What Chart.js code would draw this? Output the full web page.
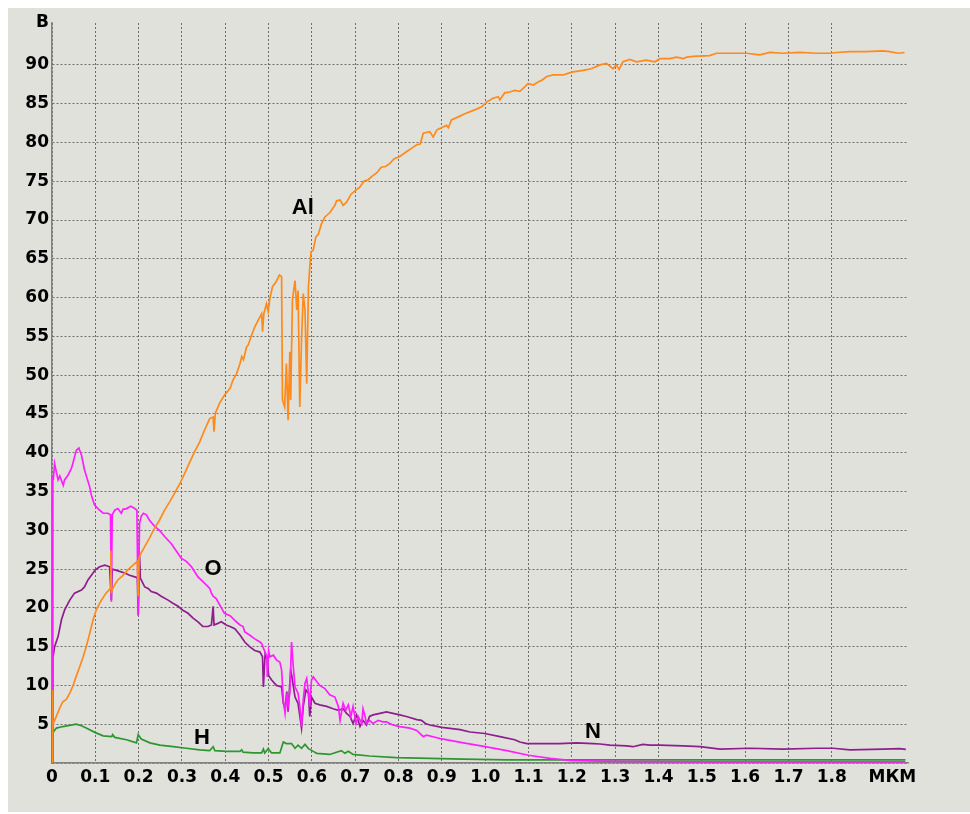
<!DOCTYPE html>
<html>
<head>
<meta charset="utf-8">
<script src="https://cdn.jsdelivr.net/npm/chart.js@4/dist/chart.umd.min.js"></script>
<style>
html,body{margin:0;padding:0;background:#fff;}
canvas{display:block;}
</style>
</head>
<body>
<canvas id="c" width="970" height="814"></canvas>
<script>
// ---- data (depth in µm, signal) ----
const AL_X = [0,0.001,0.002,0.01,0.018,0.025,0.033,0.041,0.048,0.056,0.064,0.072,0.079,0.087,0.095,0.102,0.114,0.125,0.135,0.136,0.137,0.145,0.152,0.164,0.175,0.187,0.197,0.199,0.201,0.205,0.214,0.225,0.237,0.248,0.26,0.272,0.283,0.295,0.306,0.318,0.329,0.341,0.352,0.364,0.372,0.374,0.377,0.387,0.398,0.411,0.418,0.426,0.434,0.438,0.442,0.449,0.453,0.461,0.468,0.476,0.484,0.486,0.489,0.495,0.499,0.503,0.509,0.517,0.525,0.53,0.532,0.537,0.541,0.545,0.549,0.551,0.555,0.561,0.565,0.568,0.572,0.576,0.58,0.584,0.588,0.592,0.595,0.598,0.603,0.609,0.615,0.622,0.63,0.642,0.653,0.657,0.665,0.672,0.68,0.69,0.70,0.71,0.72,0.73,0.74,0.75,0.76,0.77,0.78,0.79,0.803,0.818,0.834,0.842,0.85,0.857,0.872,0.88,0.888,0.895,0.903,0.911,0.915,0.922,0.938,0.953,0.976,0.992,1.003,1.018,1.03,1.034,1.045,1.057,1.068,1.08,1.092,1.099,1.111,1.122,1.13,1.142,1.157,1.18,1.191,1.203,1.226,1.245,1.265,1.28,1.295,1.303,1.309,1.318,1.334,1.349,1.372,1.392,1.403,1.426,1.442,1.457,1.465,1.48,1.518,1.534,1.572,1.603,1.634,1.657,1.688,1.726,1.765,1.795,1.811,1.842,1.88,1.918,1.934,1.953,1.968];
const AL_Y = [0,9.4,4.9,6,7.1,7.9,8.2,9,9.9,11.2,12.4,13.7,15,16.7,18.5,19.7,21,21.9,22.5,27.4,22.1,23,23.6,24.2,24.9,25.5,26,21.5,26.5,27,27.9,29,30.3,31.3,32.6,33.7,34.8,36,37.3,38.8,40.1,41.4,42.9,44.4,44.6,42.7,45.1,46.4,47.4,48.3,49.4,50.2,51.5,52.4,52.0,53.6,53.9,55.2,56.2,57.1,57.9,55.6,57.9,59.2,58.2,59.9,61.4,62,62.9,62.7,46.8,45.9,51.5,44.2,53,46.8,59.7,62.2,58.4,60.9,45.9,54.5,60.5,58.4,48.9,61.4,63.9,65.9,66.1,67.8,68.2,69.5,70.4,71,71.9,72.5,72.6,71.9,72.3,73.3,73.8,74.2,75,75.2,75.7,76.1,76.8,76.9,77.3,77.9,78.2,78.8,79.4,79.7,79.8,81.2,81.4,80.7,81.6,81.8,82,82.2,81.9,82.9,83.3,83.7,84.2,84.6,85.2,85.7,85.9,85.5,86.4,86.5,86.7,86.6,87.2,87.6,87.4,87.8,88,88.5,88.7,88.7,88.9,89.1,89.3,89.5,90,90.2,89.5,90,89.4,90.4,90.7,90.4,90.6,90.4,90.8,90.8,91,90.8,91,91.1,91.2,91.5,91.5,91.5,91.3,91.6,91.5,91.6,91.5,91.5,91.6,91.7,91.7,91.8,91.7,91.5,91.6];

const O_X = [0,0.002,0.003,0.006,0.014,0.018,0.026,0.029,0.037,0.045,0.049,0.056,0.062,0.068,0.075,0.082,0.087,0.091,0.098,0.106,0.118,0.129,0.135,0.137,0.139,0.145,0.152,0.16,0.164,0.172,0.182,0.191,0.196,0.199,0.202,0.206,0.211,0.218,0.225,0.237,0.248,0.26,0.275,0.291,0.298,0.31,0.322,0.337,0.352,0.364,0.368,0.372,0.379,0.391,0.398,0.411,0.422,0.434,0.441,0.445,0.456,0.468,0.48,0.484,0.488,0.492,0.496,0.497,0.5,0.503,0.511,0.518,0.526,0.53,0.534,0.538,0.542,0.545,0.549,0.553,0.557,0.561,0.568,0.572,0.576,0.58,0.584,0.588,0.592,0.595,0.599,0.603,0.611,0.618,0.63,0.641,0.653,0.661,0.665,0.672,0.678,0.684,0.69,0.695,0.702,0.707,0.715,0.718,0.722,0.726,0.733,0.741,0.753,0.764,0.772,0.787,0.803,0.826,0.842,0.857,0.865,0.9,0.95,1.0,1.05,1.1,1.15,1.2,1.3,1.5,1.7,1.97];
const O_Y = [0,37,36.5,38.6,36.5,37,35.8,36.5,37.1,38,38.8,40.3,40.6,39.7,37.8,36.5,35.6,34.5,33.3,32.8,32.2,32.2,32,20.8,32,32.6,32.8,32.2,32.7,32.8,33.1,32.8,32.6,19,30.9,31.8,32.2,32,31.3,30.5,30,29.2,28.3,27,26.4,26,25.3,24,23.2,22.5,21.9,21.5,21.2,20,19.3,19,18.4,17.8,17.6,16.9,16.5,16,15.6,15.4,14.8,14.3,13.7,11.1,14.5,13.7,13.9,13.3,13,12,8.1,6.4,9,7.3,9,15.6,12.4,9.8,9,7.3,4.7,8.1,10.3,10.9,9,7.3,10.7,11.1,10.5,10,9.6,8.8,8.5,7.3,5.5,7.7,6.8,7.5,6,7.3,5.1,6,5.1,7,6.2,5.1,5.5,5.1,5.5,5.3,5.3,4.9,4.7,4.5,4.2,3.4,3.6,3.1,2.6,2.1,1.6,1.0,0.6,0.3,0.2,0.15,0.15,0.15];

const N_X = [0,0.002,0.006,0.014,0.022,0.029,0.041,0.052,0.068,0.075,0.083,0.091,0.1,0.11,0.122,0.133,0.137,0.139,0.145,0.156,0.168,0.179,0.191,0.197,0.199,0.202,0.204,0.206,0.214,0.222,0.229,0.241,0.252,0.268,0.279,0.291,0.302,0.314,0.325,0.337,0.348,0.36,0.368,0.372,0.374,0.383,0.391,0.402,0.411,0.422,0.434,0.445,0.456,0.468,0.48,0.486,0.488,0.492,0.497,0.5,0.507,0.518,0.53,0.534,0.538,0.542,0.545,0.551,0.555,0.561,0.568,0.576,0.58,0.586,0.592,0.595,0.599,0.607,0.618,0.634,0.649,0.661,0.672,0.68,0.688,0.695,0.703,0.711,0.718,0.726,0.733,0.741,0.757,0.772,0.787,0.803,0.818,0.842,0.853,0.862,0.872,0.9,0.942,0.965,0.999,1.034,1.068,1.08,1.096,1.134,1.172,1.211,1.249,1.265,1.288,1.326,1.341,1.364,1.38,1.403,1.456,1.496,1.542,1.611,1.687,1.766,1.803,1.842,1.918,1.957,1.971];
const N_Y = [0,13.5,15,16.3,18.5,19.7,21,21.9,22.3,22.7,23.6,24.2,24.9,25.3,25.5,25.3,21,25,24.9,24.7,24.5,24.2,24,23.9,19.1,27,23.8,23.6,22.7,22.5,22.1,21.9,21.5,21,20.6,20.2,19.7,19.3,18.7,18.2,17.6,17.6,17.8,20.2,17.8,18,18.2,17.8,17.6,17.3,16.5,15.6,15,14.5,14.3,13.7,9.8,14.1,13.3,11.3,10.7,10,9.8,7.7,7,9.2,6.6,12,10.7,8.5,7.7,4.5,7.3,9.4,9,6,8.5,7.7,7.5,7.3,7,6.8,7,6.4,6,5.1,6.2,4.7,5.5,4.9,6,6.2,6.4,6.6,6.4,6.2,6,5.6,5.5,5.1,4.9,4.6,4.3,4.0,3.8,3.4,3.0,2.7,2.5,2.5,2.5,2.6,2.5,2.45,2.3,2.2,2.1,2.4,2.3,2.3,2.2,2.1,1.8,1.9,1.8,1.9,1.9,1.7,1.8,1.85,1.75];

const H_X = [0,0.002,0.01,0.025,0.056,0.068,0.079,0.099,0.118,0.138,0.14,0.145,0.172,0.195,0.199,0.206,0.226,0.249,0.28,0.31,0.341,0.364,0.372,0.376,0.403,0.434,0.438,0.441,0.464,0.484,0.488,0.491,0.499,0.507,0.526,0.534,0.541,0.553,0.561,0.568,0.576,0.584,0.592,0.603,0.611,0.641,0.668,0.676,0.684,0.695,0.733,0.795,0.872,0.95,1.05,1.15,1.4,1.97];
const H_Y = [0,3.9,4.5,4.7,5.0,4.8,4.5,3.95,3.5,3.4,3.65,3.3,3.0,2.6,3.65,3.1,2.6,2.3,2.1,1.9,1.7,1.6,2.1,1.6,1.5,1.5,1.7,1.4,1.3,1.3,1.8,1.3,1.85,1.3,1.3,2.7,2.5,2.5,1.9,2.3,1.9,2.4,1.85,1.5,1.25,1.1,1.6,1.25,1.5,1.1,0.9,0.7,0.6,0.5,0.4,0.4,0.4,0.4];

const X_TICK_VALUES = [0,0.1,0.2,0.3,0.4,0.5,0.6,0.7,0.8,0.9,1.0,1.1,1.2,1.3,1.4,1.5,1.6,1.7,1.8,1.94];
const X_TICK_LABELS = ['0','0.1','0.2','0.3','0.4','0.5','0.6','0.7','0.8','0.9','1.0','1.1','1.2','1.3','1.4','1.5','1.6','1.7','1.8','МКМ'];
const Y_TICK_VALUES = [0,5,10,15,20,25,30,35,40,45,50,55,60,65,70,75,80,85,90,95.4];
const Y_TICK_LABELS = ['','5','10','15','20','25','30','35','40','45','50','55','60','65','70','75','80','85','90','B'];

const SERIES_LABELS = ['Al','O','N','H'];
const LABEL_POS_X = [0.579, 0.372, 1.249, 0.346];
const LABEL_POS_Y = [71.5, 25, 4.0, 3.2];

const pts = (xs, ys) => xs.map((x, i) => ({x, y: ys[i]}));

const panelPlugin = {
  id: 'panel',
  beforeDraw(chart) {
    const ctx = chart.ctx;
    ctx.save();
    ctx.fillStyle = '#ffffff';
    ctx.fillRect(0, 0, chart.width, chart.height);
    ctx.fillStyle = '#e1e1dc';
    ctx.fillRect(8, 8, chart.width - 8, chart.height - 10);
    ctx.restore();
  }
};

const labelPlugin = {
  id: 'seriesLabels',
  afterDatasetsDraw(chart) {
    const ctx = chart.ctx;
    const xs = chart.scales.x, ys = chart.scales.y;
    ctx.save();
    ctx.fillStyle = '#000';
    ctx.font = 'bold 22px "Liberation Sans", Arial, sans-serif';
    ctx.textAlign = 'center';
    ctx.textBaseline = 'middle';
    SERIES_LABELS.forEach((t, i) => {
      ctx.fillText(t, xs.getPixelForValue(LABEL_POS_X[i]), ys.getPixelForValue(LABEL_POS_Y[i]));
    });
    ctx.restore();
  }
};

const tickFont = { family: '"DejaVu Sans", Verdana, sans-serif', weight: 'bold', size: 17 };
const GRID_COLOR = '#6e6e6e';

new Chart(document.getElementById('c'), {
  type: 'line',
  data: {
    datasets: [
      { label: 'Al', data: pts(AL_X, AL_Y), borderColor: '#ff8a1c', borderWidth: 1.7 },
      { label: 'O',  data: pts(O_X, O_Y),  borderColor: '#ff1eff', borderWidth: 1.7 },
      { label: 'N',  data: pts(N_X, N_Y),  borderColor: '#8e1e8e', borderWidth: 1.7 },
      { label: 'H',  data: pts(H_X, H_Y),  borderColor: '#2e962e', borderWidth: 1.7 }
    ]
  },
  options: {
    responsive: false,
    animation: false,
    devicePixelRatio: 1,
    elements: { point: { radius: 0 }, line: { tension: 0 } },
    layout: { padding: { left: 0, right: 62, top: 23, bottom: 0 } },
    plugins: { legend: { display: false }, tooltip: { enabled: false } },
    scales: {
      x: {
        type: 'linear', min: 0, max: 1.976,
        afterBuildTicks(scale) { scale.ticks = X_TICK_VALUES.map(v => ({ value: v })); },
        afterFit(scale) { scale.height = 51; },
        ticks: {
          autoSkip: false, maxRotation: 0, minRotation: 0, padding: 4,
          color: '#000', font: tickFont,
          callback(value, index) { return X_TICK_LABELS[index]; }
        },
        grid: {
          drawTicks: false, lineWidth: 1,
          color(ctx) { return (ctx.tick && ctx.tick.value > 1.85) ? 'rgba(0,0,0,0)' : GRID_COLOR; }
        },
        border: { display: true, color: '#808080', width: 1.5, dash: [2, 2] }
      },
      y: {
        type: 'linear', min: 0, max: 95.4,
        afterBuildTicks(scale) { scale.ticks = Y_TICK_VALUES.map(v => ({ value: v })); },
        afterFit(scale) { scale.width = 52; },
        ticks: {
          autoSkip: false, padding: 3, color: '#000', font: tickFont,
          callback(value, index) { return Y_TICK_LABELS[index]; }
        },
        grid: {
          drawTicks: false, lineWidth: 1,
          color(ctx) { return (ctx.tick && ctx.tick.value > 92) ? 'rgba(0,0,0,0)' : GRID_COLOR; }
        },
        border: { display: true, color: '#808080', width: 1.5, dash: [2, 2] }
      }
    }
  },
  plugins: [panelPlugin, labelPlugin]
});
</script>
</body>
</html>
